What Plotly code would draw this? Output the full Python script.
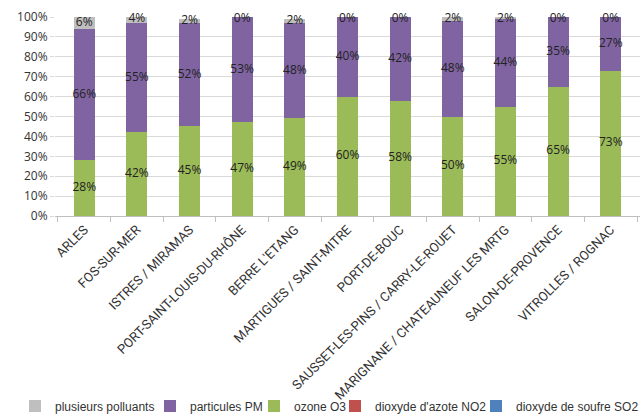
import plotly.graph_objects as go

categories = ["ARLES", "FOS-SUR-MER", "ISTRES / MIRAMAS", "PORT-SAINT-LOUIS-DU-RHÔNE",
              "BERRE L'ETANG", "MARTIGUES / SAINT-MITRE", "PORT-DE-BOUC",
              "SAUSSET-LES-PINS / CARRY-LE-ROUET", "MARIGNANE / CHATEAUNEUF LES MRTG",
              "SALON-DE-PROVENCE", "VITROLLES / ROGNAC"]
so2 = [0, 0, 0, 0, 0, 0, 0, 0, 0, 0, 0]
no2 = [0, 0, 0, 0, 0, 0, 0, 0, 0, 0, 0]
ozone = [28, 42, 45, 47, 49, 60, 58, 50, 55, 65, 73]
particules = [66, 55, 52, 53, 48, 40, 42, 48, 44, 35, 27]
plusieurs = [6, 4, 2, 0, 2, 0, 0, 2, 2, 0, 0]

font = "Open Sans"
narrow = "Liberation Sans Narrow, Arial Narrow, Roboto, sans-serif"
legfont = "Liberation Sans, Arial, sans-serif"
fig = go.Figure()
# (name, values, colour, legend id, legend left in px)
series = [
    ("dioxyde de soufre SO2", so2, "#4F81BD", "legend5", 476),
    ("dioxyde d'azote NO2", no2, "#C0504D", "legend4", 335),
    ("ozone O3", ozone, "#9BBB59", "legend3", 254),
    ("particules PM", particules, "#8064A2", "legend2", 150),
    ("plusieurs polluants", plusieurs, "#BFBFBF", "legend", 15),
]
legends = {}
for name, vals, col, lg, lx in series:
    fig.add_trace(go.Bar(x=categories, y=[v / 100 for v in vals], name=name,
                         marker=dict(color=col, line=dict(width=0)), width=0.4,
                         legend=lg, hoverinfo="skip"))
    legends[lg] = dict(orientation="h", xref="container", yref="container",
                       x=lx / 643, y=1 - 406 / 415, xanchor="left", yanchor="middle",
                       font=dict(family=legfont, size=12, color="#333333"),
                       itemwidth=30, bgcolor="rgba(0,0,0,0)")

# data labels at segment centres (ozone, particules, plusieurs)
lab_x, lab_y, lab_t = [], [], []
for i, c in enumerate(categories):
    base = so2[i] + no2[i]
    for vals in (ozone, particules, plusieurs):
        v = vals[i]
        lab_x.append(c)
        lab_y.append(min(base + v / 2, 99.2) / 100)
        lab_t.append(f"{v}%")
        base += v
fig.add_trace(go.Scatter(x=lab_x, y=lab_y, text=lab_t, mode="text",
                         textfont=dict(family=font, size=12, color="#222222"),
                         showlegend=False, hoverinfo="skip", cliponaxis=False))

fig.update_layout(
    barmode="stack",
    width=643, height=415,
    margin=dict(l=55, r=3, t=17, b=199),
    paper_bgcolor="white", plot_bgcolor="white",
    font=dict(family=font, size=12, color="#333333"),
    bargap=0.6,
    xaxis=dict(tickangle=-45, showgrid=False, tickson="boundaries", ticks="outside",
               ticklen=5, tickcolor="#BFBFBF", showline=True, linecolor="#BFBFBF",
               automargin=False,
               tickfont=dict(family=narrow, size=13, color="#333333")),
    yaxis=dict(range=[0, 1], dtick=0.1, tickformat=".0%", showgrid=True,
               gridcolor="#D9D9D9", ticks="outside", ticklen=4, tickcolor="#D9D9D9",
               zeroline=False, automargin=False,
               tickfont=dict(family=font, size=12, color="#333333")),
    **legends,
)
fig.write_html("out.html")
